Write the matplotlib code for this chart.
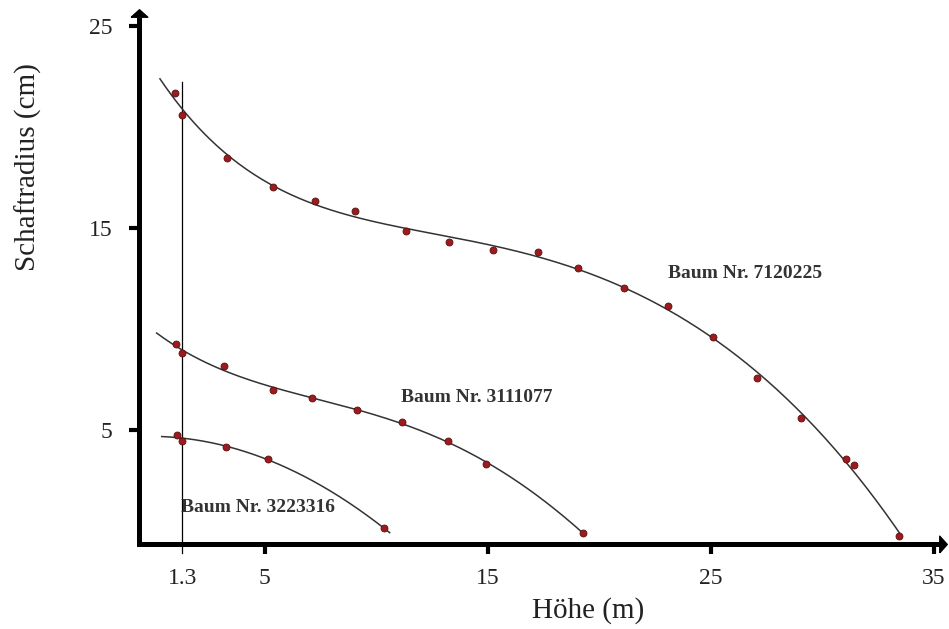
"""Schaftkurven dreier Bäume: Schaftradius über Höhe mit Ausgleichskurve."""
import numpy as np
import matplotlib
matplotlib.use('Agg')
import matplotlib.pyplot as plt
from matplotlib.path import Path

plt.rcParams.update({
    'font.family': 'serif',
    'font.serif': ['Liberation Serif', 'DejaVu Serif'],
    'font.size': 16,
})

# ---------- Daten ----------
h_7120225 = [0.97, 1.3, 3.32, 5.38, 7.24, 9.03, 11.34, 13.25, 15.22, 17.26,
             19.06, 21.12, 23.09, 25.10, 27.09, 29.03, 31.06, 31.41, 33.45]
r_7120225 = [21.67, 20.6, 18.48, 17.04, 16.35, 15.84, 14.84, 14.31, 13.93, 13.80,
             13.02, 12.03, 11.12, 9.62, 7.57, 5.61, 3.56, 3.25, -0.23]

h_3111077 = [1.0, 1.3, 3.18, 5.38, 7.10, 9.15, 11.15, 13.21, 14.92, 19.26]
r_3111077 = [9.24, 8.80, 8.15, 6.97, 6.58, 5.99, 5.38, 4.47, 3.33, -0.08]

h_3223316 = [1.05, 1.3, 3.26, 5.16, 10.33]
r_3223316 = [4.77, 4.46, 4.17, 3.56, 0.15]

# Kurvenbereich (Start/Ende der Ausgleichskurve) und Polynomgrad
trees = [
    ('Baum Nr. 7120225', h_7120225, r_7120225, (0.3, 33.5), 6, (23.1, 12.77)),
    ('Baum Nr. 3111077', h_3111077, r_3111077, (0.15, 19.3), 4, (11.1, 6.62)),
    ('Baum Nr. 3223316', h_3223316, r_3223316, (0.38, 10.6), 2, (1.23, 1.17)),
]

xticks = [1.3, 5, 15, 25, 35]
xticklabels = ['1.3', '5', '15', '25', '35']
yticks = [5, 15, 25]

fig = plt.figure(figsize=(9.49, 6.29), dpi=100)
ax = fig.add_axes([139/949, 85/629, 810/949, 536/629])
ax.set_xlim(-0.64, 35.68)
ax.set_ylim(-0.64, 25.89)

for name, h, r, (x0, x1), deg, (tx, ty) in trees:
    coef = np.polyfit(h, r, deg)
    xs = np.linspace(x0, x1, 300)
    ax.plot(xs, np.polyval(coef, xs), color='#333333', lw=1.1, zorder=2)
    ax.plot(h, r, 'o', ms=5, color='#9b1b1e', mec='#5a0f10', mew=0.6, zorder=3)
    ax.text(tx, ty, name, fontsize=14, fontweight='bold', color='#333333',
            ha='left', va='center')

# Messhöhe 1.3 m
ax.plot([1.3, 1.3], [-1.09, 22.24], color='black', lw=0.9, clip_on=False, zorder=1)

# Achsen mit Pfeilen
for s in ax.spines.values():
    s.set_visible(False)
ax.plot([-0.64, -0.64], [-0.64, 25.3], color='black', lw=3.6,
        solid_capstyle='projecting', clip_on=False, zorder=4)
ax.plot([-0.64, 35.2], [-0.64, -0.64], color='black', lw=3.6,
        solid_capstyle='projecting', clip_on=False, zorder=4)
head_up = Path([(-1, -0.45), (1, -0.45), (0, 0.45), (-1, -0.45)])
head_right = Path([(-0.45, -1), (-0.45, 1), (0.45, 0), (-0.45, -1)])
ax.plot([-0.64], [25.64], marker=head_up, ms=12, color='black',
        clip_on=False, zorder=5)
ax.plot([35.43], [-0.64], marker=head_right, ms=12, color='black',
        clip_on=False, zorder=5)

ax.set_xticks(xticks)
ax.set_xticklabels(xticklabels)
ax.set_yticks(yticks)
ax.tick_params(axis='both', direction='out', length=7, width=3, labelsize=17,
               color='black', labelcolor='#222222')
ax.tick_params(axis='x', pad=10)
ax.tick_params(axis='y', pad=12)
ax.xaxis.get_major_ticks()[0].tick1line.set_visible(False)

ax.set_xlabel('Höhe (m)', fontsize=21, color='#222222', va='center')
ax.xaxis.set_label_coords(0.554, -0.125)
ax.set_ylabel('Schaftradius (cm)', fontsize=21, color='#222222', va='center')
ax.yaxis.set_label_coords(-0.137, 0.703)

fig.savefig('out.png', dpi=100)
